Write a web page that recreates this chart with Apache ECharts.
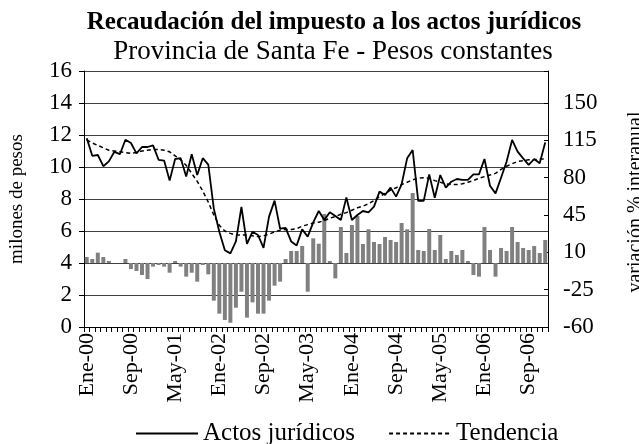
<!DOCTYPE html>
<html>
<head>
<meta charset="utf-8">
<script src="https://cdn.jsdelivr.net/npm/echarts@6/dist/echarts.min.js"></script>
<style>
html,body{margin:0;padding:0;background:#fff;}
#chart{width:639px;height:444px;}
</style>
</head>
<body>
<div id="chart"></div>
<script>
// Monthly categories, Jan 2000 - Dec 2006
const months = [
  'Ene-00','Feb-00','Mar-00','Abr-00','May-00','Jun-00','Jul-00','Ago-00','Sep-00','Oct-00','Nov-00','Dic-00',
  'Ene-01','Feb-01','Mar-01','Abr-01','May-01','Jun-01','Jul-01','Ago-01','Sep-01','Oct-01','Nov-01','Dic-01',
  'Ene-02','Feb-02','Mar-02','Abr-02','May-02','Jun-02','Jul-02','Ago-02','Sep-02','Oct-02','Nov-02','Dic-02',
  'Ene-03','Feb-03','Mar-03','Abr-03','May-03','Jun-03','Jul-03','Ago-03','Sep-03','Oct-03','Nov-03','Dic-03',
  'Ene-04','Feb-04','Mar-04','Abr-04','May-04','Jun-04','Jul-04','Ago-04','Sep-04','Oct-04','Nov-04','Dic-04',
  'Ene-05','Feb-05','Mar-05','Abr-05','May-05','Jun-05','Jul-05','Ago-05','Sep-05','Oct-05','Nov-05','Dic-05',
  'Ene-06','Feb-06','Mar-06','Abr-06','May-06','Jun-06','Jul-06','Ago-06','Sep-06','Oct-06','Nov-06','Dic-06'
];

// Recaudación mensual (millones de pesos constantes)
const actos = [
  11.8, 10.7, 10.75, 10.05, 10.35, 10.95, 10.8, 11.7, 11.5, 10.85, 11.25, 11.25,
  11.35, 10.45, 10.4, 9.15, 10.5, 10.55, 9.4, 10.8, 9.5, 10.55, 10.15, 7.4,
  5.95, 4.8, 4.6, 5.35, 7.5, 5.2, 5.95, 5.75, 4.95, 6.9, 7.9, 6.15,
  6.2, 5.35, 5.1, 6.1, 5.65, 6.54, 7.25, 6.69, 7.17, 6.94, 6.69, 8.10,
  6.69, 7.0, 7.25, 7.17, 7.52, 8.46, 8.25, 8.71, 8.15, 8.92, 10.54, 11.06,
  7.88, 7.88, 9.54, 8.08, 9.5, 8.71, 9.08, 9.25, 9.19, 9.19, 9.54, 9.54,
  10.5, 8.83, 8.35, 9.33, 10.33, 11.69, 10.96, 10.54, 10.13, 10.5, 10.23, 11.54
];

// Tendencia (millones de pesos constantes)
const tendencia = [
  11.7, 11.5, 11.35, 11.2, 11.05, 11.0, 10.95, 10.9, 10.85, 10.9, 11.0, 11.05,
  11.1, 11.1, 11.05, 10.95, 10.7, 10.45, 10.1, 9.6, 9.1, 8.5, 7.8, 7.0,
  6.35, 6.0, 5.85, 5.75, 5.75, 5.75, 5.7, 5.65, 5.7, 5.8, 5.95, 6.05,
  6.1, 6.1, 6.15, 6.3, 6.4, 6.5, 6.55, 6.65, 6.8, 6.9, 7.05, 7.15,
  7.3, 7.45, 7.55, 7.7, 7.9, 8.15, 8.35, 8.55, 8.7, 8.9, 9.05, 9.2,
  9.3, 9.33, 9.3, 9.15, 9.05, 8.95, 8.9, 8.9, 8.95, 9.05, 9.15, 9.3,
  9.4, 9.5, 9.6, 9.85, 10.05, 10.2, 10.35, 10.4, 10.45, 10.45, 10.5, 10.5
];

// Variación % interanual
const variacion = [
  5.6, 3.75, 9.7, 5.6, 1.9, 0, 0, 3.75, -5.6, -7.5, -11.25, -15,
  -3.4, -1.9, -3.4, -9.1, 1.9, -3.4, -12.8, -9.1, -17.5, -1.9, -10.6, -35.3,
  -47.5, -53.4, -56, -41.9, -26.9, -51.2, -36.9, -47.5, -47.5, -35.3, -21.25, -17.5,
  3.75, 11.25, 11.25, 15.9, -26.9, 23.1, 18.1, 45.9, 1.9, -14.4, 33.75, 9.4,
  35.6, 44.1, 17.8, 31.6, 19.7, 17.8, 24.4, 21.6, 19.7, 37.5, 31.6, 65.6,
  12.2, 11.25, 31.9, 12.2, 26.25, 3.75, 11.25, 7.5, 12.2, 1.9, -11.25, -12.8,
  33.75, 12.2, -12.8, 14.1, 11.25, 33.75, 19.7, 14.1, 12.2, 15.9, 9.4, 21.6
];

const leftTicks = { min: 0, max: 16, step: 2 };
const rightTicks = { min: -60, max: 180, step: 35, lastShown: 150 };

const serif = 'Liberation Serif, Times New Roman, serif';
const chart = echarts.init(document.getElementById('chart'), null, { renderer: 'canvas' });

chart.setOption({
  animation: false,
  backgroundColor: '#ffffff',
  textStyle: { fontFamily: serif, color: '#000' },
  title: [
    {
      text: 'Recaudación del impuesto a los actos jurídicos',
      left: 329, top: 5, textAlign: 'center',
      textStyle: { fontFamily: serif, fontWeight: 'bold', fontSize: 25, color: '#000' }
    },
    {
      text: 'Provincia de Santa Fe - Pesos constantes',
      left: 328, top: 33, textAlign: 'center',
      textStyle: { fontFamily: serif, fontWeight: 'normal', fontSize: 27, color: '#000' }
    }
  ],
  // Right-hand axis title, placed against the edge of the canvas
  graphic: [
    {
      type: 'text',
      x: 636, y: 202,
      rotation: Math.PI / 2,
      silent: true,
      style: {
        text: 'variación % interanual',
        font: '20px ' + serif,
        fill: '#000',
        align: 'center',
        verticalAlign: 'middle'
      }
    }
  ],
  legend: {
    top: 416, left: 130,
    itemWidth: 62, itemHeight: 12, itemGap: 33,
    data: ['Actos jurídicos', 'Tendencia'],
    itemStyle: { opacity: 0 },
    textStyle: { fontFamily: serif, fontSize: 25, color: '#000' }
  },
  grid: { left: 84, right: 91, top: 71, bottom: 117, containLabel: false },
  xAxis: {
    type: 'category',
    data: months,
    boundaryGap: true,
    axisLine: { lineStyle: { color: '#000', width: 1 } },
    axisTick: { show: true, interval: 0, length: 5, lineStyle: { color: '#000' } },
    axisLabel: { interval: 7, rotate: 90, fontSize: 22, fontFamily: serif, color: '#000', margin: 6 }
  },
  yAxis: [
    {
      type: 'value',
      min: leftTicks.min, max: leftTicks.max, interval: leftTicks.step,
      name: 'milones de pesos', nameLocation: 'middle', nameGap: 57, nameRotate: 90,
      nameTextStyle: { fontFamily: serif, fontSize: 19, color: '#000' },
      axisLine: { show: true, lineStyle: { color: '#000' } },
      axisTick: { show: true, length: 5, lineStyle: { color: '#000' } },
      axisLabel: { fontSize: 23, fontFamily: serif, color: '#000', margin: 12 },
      splitLine: { show: true, lineStyle: { color: '#404040', width: 1 } }
    },
    {
      type: 'value',
      min: rightTicks.min, max: rightTicks.max, interval: rightTicks.step,
      axisLine: { show: true, lineStyle: { color: '#000' } },
      axisTick: { show: true, inside: true, length: 4, lineStyle: { color: '#000' } },
      axisLabel: {
        fontSize: 23, fontFamily: serif, color: '#000', margin: 15,
        formatter: v => (v > rightTicks.lastShown ? '' : String(v))
      },
      splitLine: { show: false }
    }
  ],
  series: [
    {
      name: 'Variación interanual',
      type: 'bar',
      yAxisIndex: 1,
      data: variacion,
      barCategoryGap: '28%',
      itemStyle: { color: '#808080' },
      z: 1
    },
    {
      name: 'Actos jurídicos',
      type: 'line',
      data: actos,
      symbol: 'none',
      lineStyle: { color: '#000', width: 1.8 },
      itemStyle: { color: '#000' },
      z: 3
    },
    {
      name: 'Tendencia',
      type: 'line',
      data: tendencia,
      symbol: 'none',
      lineStyle: { color: '#000', width: 1.5, type: [4, 3] },
      itemStyle: { color: '#000' },
      z: 2
    }
  ]
});
</script>
</body>
</html>
